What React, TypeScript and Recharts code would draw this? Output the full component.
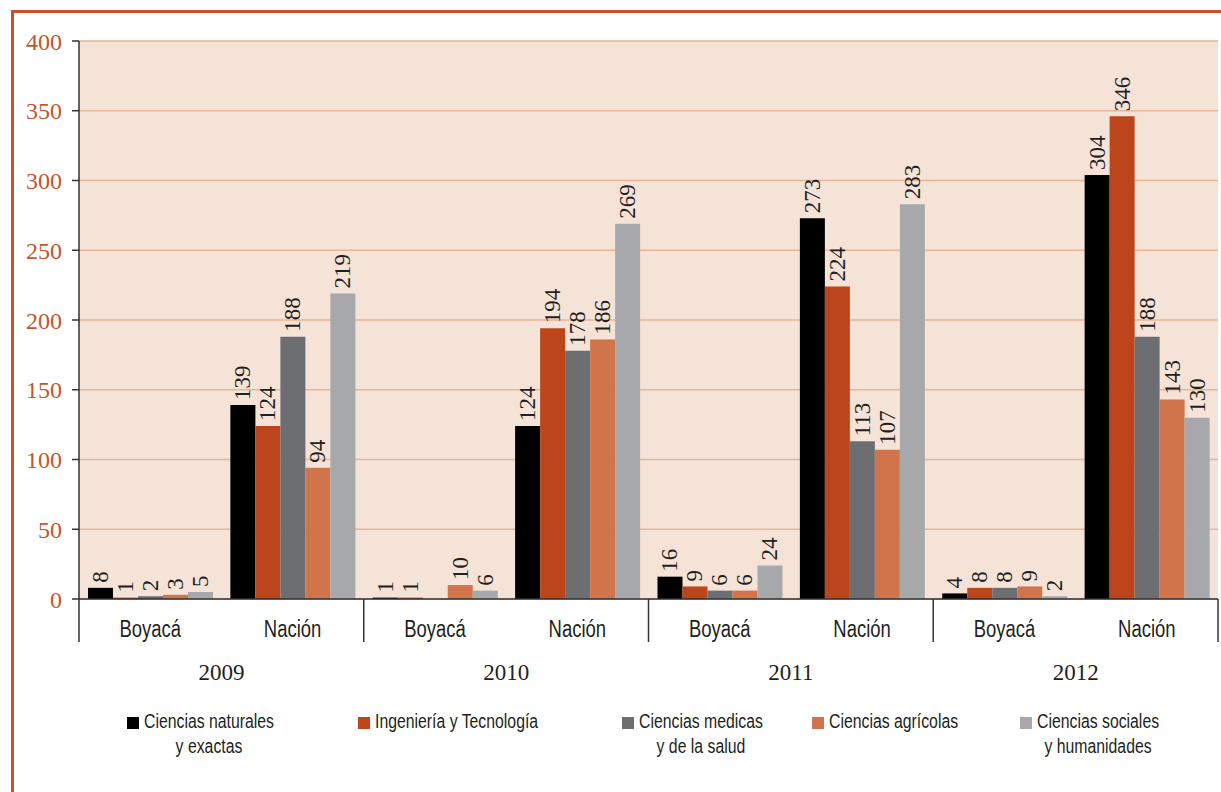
import React from 'react';
import { BarChart, Bar, XAxis, YAxis, CartesianGrid, Legend, LabelList } from 'recharts';

const years = ['2009', '2010', '2011', '2012'];
const places = ['Boyacá', 'Nación'];

const naturales = [8, 139, 1, 124, 16, 273, 4, 304];
const ingenieria = [1, 124, 1, 194, 9, 224, 8, 346];
const medicas = [2, 188, 0, 178, 6, 113, 8, 188];
const agricolas = [3, 94, 10, 186, 6, 107, 9, 143];
const sociales = [5, 219, 6, 269, 24, 283, 2, 130];

const yTicks = [0, 50, 100, 150, 200, 250, 300, 350, 400];

const series = [
    { key: 'naturales', values: naturales, name: 'Ciencias naturales\ny exactas', color: '#000000' },
    { key: 'ingenieria', values: ingenieria, name: 'Ingeniería y Tecnología', color: '#bc451b' },
    { key: 'medicas', values: medicas, name: 'Ciencias medicas\ny de la salud', color: '#6d6e71' },
    { key: 'agricolas', values: agricolas, name: 'Ciencias agrícolas', color: '#d0754b' },
    { key: 'sociales', values: sociales, name: 'Ciencias sociales\ny humanidades', color: '#a7a8ab' },
];

const data = years.flatMap((year, yi) =>
    places.map((place, pi) => {
        const i = yi * places.length + pi;
        const row: { [key: string]: string | number } = { place, year };
        series.forEach(s => { row[s.key] = s.values[i]; });
        return row;
    })
);

const W = 1221;
const H = 792;
const PLOT_LEFT = 79;
const PLOT_RIGHT = 1218;
const BAND = (PLOT_RIGHT - PLOT_LEFT) / data.length;

const SERIF = "'Liberation Serif', 'Times New Roman', serif";
// no narrow sans installed, so Liberation Sans gets squeezed horizontally
const SANS = "'Liberation Sans', Arial, sans-serif";
const ORANGE = '#c4552b';

// legend slots (left edge of each swatch)
const legendLeft = [127, 358, 622, 812, 1020];

const CategoryTick = (props: any) => {
    const { x, y, payload, index } = props;
    const i = payload?.index ?? index;
    const dividerStyle = { stroke: '#333', strokeWidth: 1.5 };
    return (
        <g>
            <text
                transform={`translate(${x}, ${y + 38}) scale(0.77, 1)`}
                textAnchor="middle"
                fill="#231f20"
                fontFamily={SANS}
                fontSize={24}
            >
                {payload.value}
            </text>
            {i % 2 === 0 && (
                <>
                    <line x1={x - BAND / 2} y1={y} x2={x - BAND / 2} y2={y + 43} {...dividerStyle} />
                    <text x={x + BAND / 2} y={y + 81} textAnchor="middle" fill="#231f20" fontFamily={SERIF} fontSize={23}>
                        {data[i].year}
                    </text>
                </>
            )}
            {i === data.length - 1 && (
                <line x1={x + BAND / 2} y1={y} x2={x + BAND / 2} y2={y + 43} {...dividerStyle} />
            )}
        </g>
    );
};

const RotatedLabel = (props: any) => {
    const { x, y, width, value } = props;
    const cx = x + width / 2;
    const cy = y - 5;
    return (
        <text
            x={cx}
            y={cy}
            transform={`rotate(-90, ${cx}, ${cy})`}
            textAnchor="start"
            dominantBaseline="central"
            fontFamily={SERIF}
            fontSize={23}
            fill="#231f20"
        >
            {value}
        </text>
    );
};

const LegendContent = () => (
    <div style={{ position: 'relative', height: 60, width: W }}>
        {series.map((s, i) => (
            <div
                key={s.key}
                style={{ position: 'absolute', left: legendLeft[i], top: 0, display: 'flex', alignItems: 'flex-start' }}
            >
                <div style={{ width: 12, height: 12, background: s.color, marginTop: 8, marginRight: 5, flexShrink: 0 }} />
                <div
                    style={{
                        fontFamily: SANS,
                        fontSize: 20,
                        lineHeight: '25px',
                        color: '#231f20',
                        textAlign: 'center',
                        whiteSpace: 'pre',
                        transform: 'scaleX(0.79)',
                        transformOrigin: 'left top',
                    }}
                >
                    {s.name}
                </div>
            </div>
        ))}
    </div>
);

const App: React.FC = () => {
    return (
        <div style={{ position: 'absolute', left: 0, top: 0, width: W, height: H, overflow: 'hidden', background: '#fff' }}>
            <div
                style={{
                    position: 'absolute',
                    left: 11,
                    top: 10,
                    width: W,
                    height: H,
                    borderLeft: `3px solid ${ORANGE}`,
                    borderTop: `3px solid ${ORANGE}`,
                }}
            />
            <BarChart
                width={W}
                height={H}
                data={data}
                margin={{ top: 41, right: W - PLOT_RIGHT, left: 0, bottom: 93 }}
                barCategoryGap={9}
                barGap={0}
            >
                <CartesianGrid vertical={false} stroke="#e9b597" strokeWidth={1.3} fill="#f5e3d8" />
                <XAxis
                    dataKey="place"
                    height={100}
                    tickLine={false}
                    tickSize={0}
                    tickMargin={0}
                    interval={0}
                    axisLine={{ stroke: '#333', strokeWidth: 1.5 }}
                    tick={<CategoryTick />}
                />
                <YAxis
                    width={PLOT_LEFT}
                    domain={[0, 400]}
                    ticks={yTicks}
                    interval={0}
                    tickSize={7}
                    tickMargin={10}
                    axisLine={{ stroke: '#333', strokeWidth: 1.5 }}
                    tickLine={{ stroke: '#333', strokeWidth: 1.5 }}
                    tick={{ fill: ORANGE, fontFamily: SERIF, fontSize: 24 }}
                />
                <Legend
                    layout="horizontal"
                    verticalAlign="middle"
                    align="center"
                    wrapperStyle={{ top: 709, left: 0, width: W }}
                    content={<LegendContent />}
                />
                {series.map(s => (
                    <Bar key={s.key} dataKey={s.key} name={s.name} fill={s.color} isAnimationActive={false}>
                        <LabelList dataKey={s.key} content={<RotatedLabel />} />
                    </Bar>
                ))}
            </BarChart>
        </div>
    );
};

export default App;
